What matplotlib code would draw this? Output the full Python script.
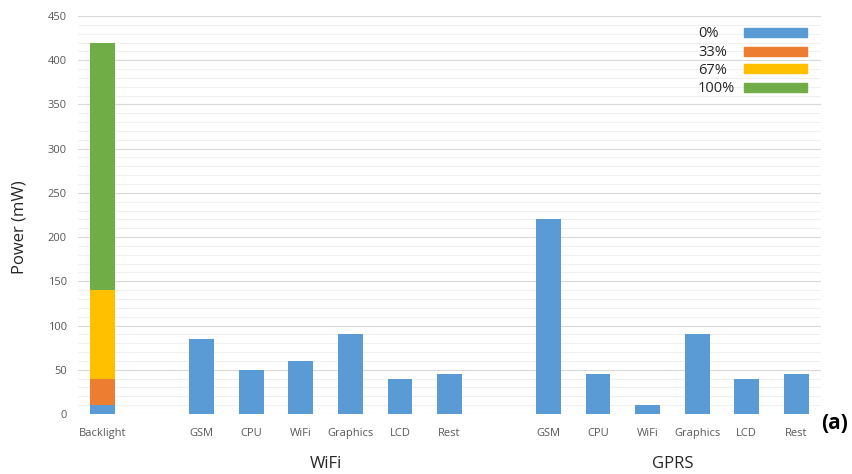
import matplotlib
matplotlib.use("Agg")
import matplotlib.pyplot as plt
from matplotlib.patches import Rectangle
import numpy as np

plt.rcParams['font.family'] = ['Open Sans', 'DejaVu Sans']

# Component categories on the x axis (empty strings are spacer slots)
categories = ["Backlight", "", "GSM", "CPU", "WiFi", "Graphics", "LCD", "Rest",
              "", "GSM", "CPU", "WiFi", "Graphics", "LCD", "Rest"]

# Backlight brightness levels and their stacked increments (mW)
levels = ["0%", "33%", "67%", "100%"]
backlight_increments = [10, 30, 100, 280]

# Component power for the WiFi and GPRS configurations (mW)
wifi_components = ["GSM", "CPU", "WiFi", "Graphics", "LCD", "Rest"]
wifi_power = [85, 50, 60, 90, 40, 45]
gprs_components = ["GSM", "CPU", "WiFi", "Graphics", "LCD", "Rest"]
gprs_power = [220, 45, 10, 90, 40, 45]

group_labels = ["WiFi", "GPRS"]
level_colors = ["#5b9bd5", "#ed7d31", "#ffc000", "#70ad47"]

fig = plt.figure(figsize=(8.53, 4.74), dpi=100)
ax = fig.add_axes([0.0914, 0.1266, 0.8711, 0.8397])

x = np.arange(len(categories))
width = 0.5

# Stacked backlight bar
bottom = 0
for lvl, inc, col in zip(levels, backlight_increments, level_colors):
    ax.bar(x[0], inc, width, bottom=bottom, color=col, label=lvl, zorder=3)
    bottom += inc

# Component bars
wifi_x = x[2:8]
gprs_x = x[9:15]
ax.bar(wifi_x, wifi_power, width, color=level_colors[0], zorder=3)
ax.bar(gprs_x, gprs_power, width, color=level_colors[0], zorder=3)

ax.set_xlim(-0.5, len(categories) - 0.5)
ax.set_ylim(0, 450)
ax.set_yticks(np.arange(0, 451, 50))
ax.set_yticks(np.arange(0, 451, 10), minor=True)
ax.grid(axis='y', which='major', color='#d9d9d9', linewidth=0.8, zorder=0)
ax.grid(axis='y', which='minor', color='#f0f0f0', linewidth=0.8, zorder=0)
ax.set_axisbelow(True)

ax.set_xticks(x)
ax.set_xticklabels(categories)
ax.tick_params(axis='both', which='both', length=0, labelsize=8, colors='#595959')
ax.tick_params(axis='x', pad=10)
ax.tick_params(axis='y', pad=8)
for s in ax.spines.values():
    s.set_visible(False)

ax.set_ylabel("Power (mW)", fontsize=12, color='#262626')
ax.yaxis.set_label_coords(-0.068, 0.47)

# Group labels under each configuration
ax.text(wifi_x.mean(), -0.125, group_labels[0], transform=ax.get_xaxis_transform(),
        ha='center', va='center', fontsize=12, color='#262626')
ax.text(gprs_x.mean(), -0.125, group_labels[1], transform=ax.get_xaxis_transform(),
        ha='center', va='center', fontsize=12, color='#262626')

fig.text(0.978, 0.106, "(a)", ha='center', va='center', fontsize=15,
         fontweight='bold', color='black')

# Legend: left-aligned labels followed by wide colour swatches
W, H = fig.get_size_inches() * fig.dpi
row_y = [32.5, 51, 69, 87]
for lvl, col, yy in zip(levels, level_colors, row_y):
    fig.text(698 / W, 1 - (yy + 1) / H, lvl, ha='left', va='center',
             fontsize=10.5, color='#262626')
    fig.patches.append(Rectangle((744 / W, 1 - (yy + 4.5) / H), 63 / W, 9 / H,
                                 transform=fig.transFigure, color=col))

fig.savefig("out.png", dpi=100)
